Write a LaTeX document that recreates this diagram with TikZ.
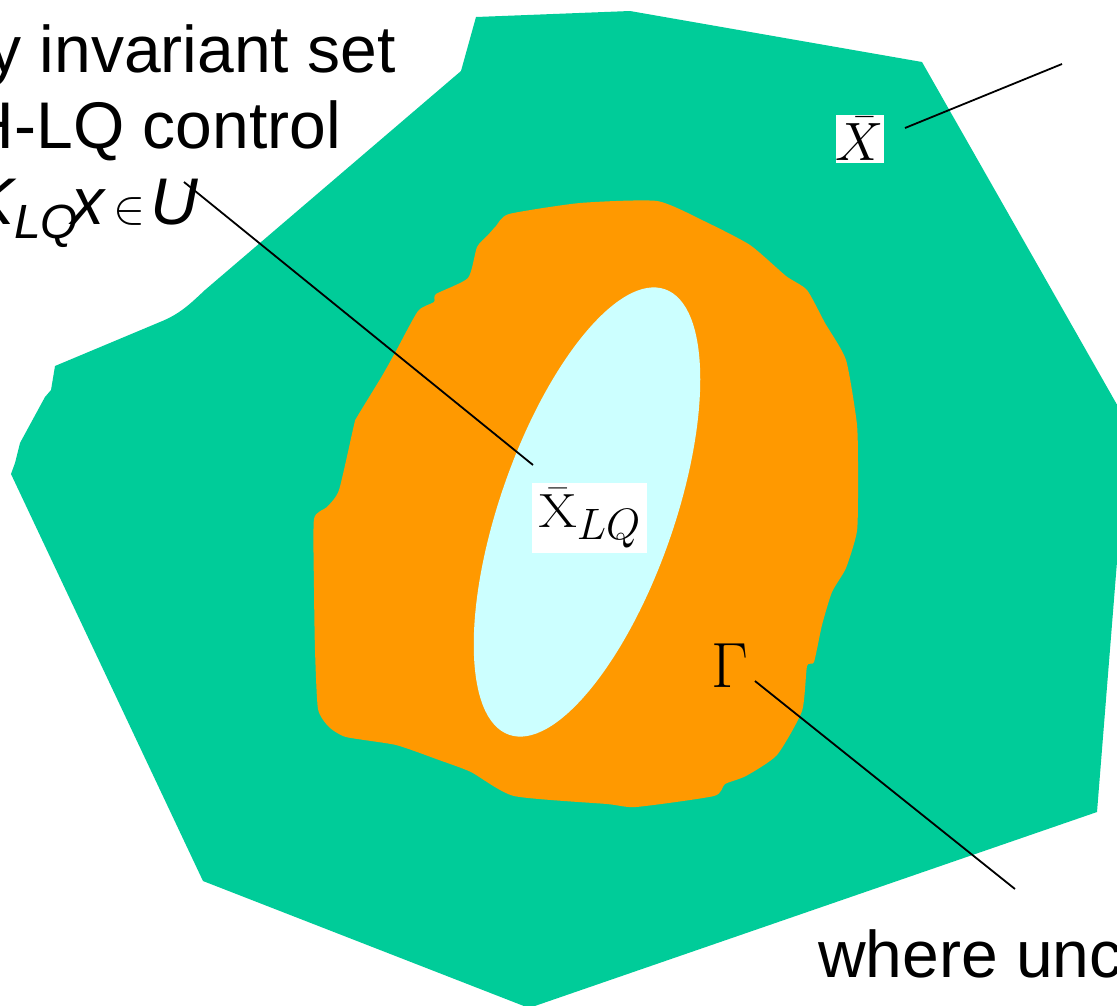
\documentclass[tikz,border=0pt]{standalone}
\usepackage{fix-cm}
\usepackage{graphicx}
\usepackage[no-math]{fontspec}
\newfontfamily\arialf{Liberation Sans}
\definecolor{outerG}{HTML}{00CC99}
\definecolor{midO}{HTML}{FF9900}
\definecolor{innerC}{HTML}{CCFFFF}
\tikzset{
  big/.style={inner sep=0pt, font=\arialf\fontsize{66}{70}\selectfont},
  lbl/.style={fill=white, inner sep=0pt},
  leader/.style={draw=black, line width=1.8pt}
}
\begin{document}
\begin{tikzpicture}[x=1pt, y=-1pt]
\useasboundingbox (0,0) rectangle (1117,1005);
\clip (0,0) rectangle (1117,1005);
\fill[white] (0,0) rectangle (1117,1005);
% outer set
\fill[outerG] (476,17) -- (630,11) -- (922,62) -- (1128,424) -- (1097,812)
  -- (529,1008) -- (203,881) -- (11,474) -- (15,463) -- (20,443) -- (45,397)
  -- (51,390) -- (55,366) -- (160,322) .. controls (180,314) and (190,304) .. (205,290)
  -- (461,71) -- cycle;
% middle set
\fill[midO] plot[smooth cycle, tension=0.35] coordinates {
  (509,214) (580,203) (657,201) (704,221) (750,245) (786,276) (807,290) (825,323)
  (846,360) (857,425) (858,480) (857,531) (846,568) (832,592) (822,625) (814,662)
  (807,666) (802,711) (777,755) (746,776) (725,784) (714,796) (636,807) (607,804)
  (514,796) (471,772) (439,760) (396,745) (346,737) (329,727) (318,709) (315,650)
  (314,588) (314,519) (327,507) (339,490) (354,425) (357,417) (382,376) (396,351)
  (418,311) (434,302) (436,294) (468,278) (477,247) (488,235) (496,226)};
% inner set
\fill[innerC, rotate around={70.7:(587,512)}] (587,512) ellipse [x radius=236pt, y radius=87pt];

% texts
\node[big, anchor=base east] (t1) at (396,72) {y invariant set};
\node[big, anchor=base east] (t2) at (341,148) {H-LQ control};
\node[big, anchor=base west] (tK) at (-30,224) {\itshape K};
\node[inner sep=0pt, anchor=base west, font=\arialf\fontsize{48}{48}\selectfont\itshape] (tLQ) at (14,238) {LQ};
\node[big, anchor=base west] (tx) at (71,224) {\itshape x};
\node[inner sep=0pt, anchor=base west, font=\fontsize{48}{48}\selectfont] (tin) at (113,223) {$\in$};
\node[big, anchor=base west] (tU) at (150,224) {\itshape U};

\node[big, anchor=base west] (t3) at (818,977) {where unc};

\node[lbl, minimum width=48pt, minimum height=48pt] (xbar) at (860,139)
  {\fontsize{54}{54}\selectfont$\bar{X}$};
\node[lbl, minimum width=115pt, minimum height=70pt] (xlq) at (589.5,518)
  {\scalebox{1.15}[1]{\fontsize{48}{48}\selectfont$\bar{\mathrm{X}}$}\raisebox{-12pt}{\fontsize{44}{44}\selectfont$LQ$}};
\node[inner sep=0pt, anchor=base west] (gam) at (711,687) {\fontsize{64}{64}\selectfont$\Gamma$};

% leaders
\coordinate (a1) at (184,182);
\coordinate (a2) at (533,465);
\coordinate (b1) at (905,128);
\coordinate (b2) at (1062,64);
\coordinate (c1) at (755,681);
\coordinate (c2) at (1015,889);
\draw[leader] (a1) -- (a2);
\draw[leader] (b1) -- (b2);
\draw[leader] (c1) -- (c2);
\end{tikzpicture}
\end{document}
